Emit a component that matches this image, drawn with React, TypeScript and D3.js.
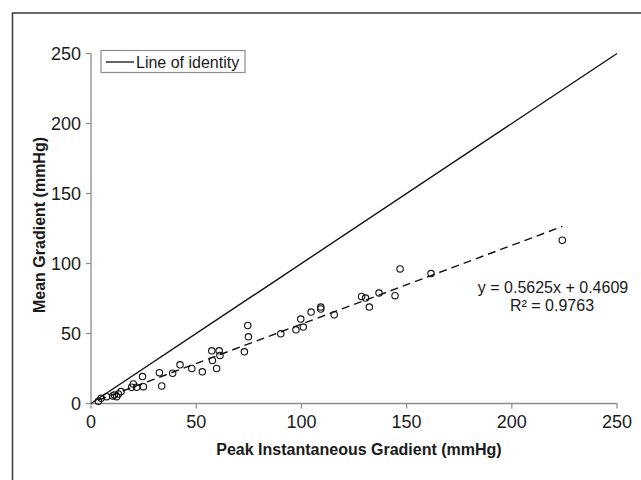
import React from "react";
import * as d3 from "d3";

const peakGradient = [3.5, 4.8, 7.4, 10.3, 11.1, 12.2, 13, 14.3, 19.3, 20.1, 21.7, 24.5, 24.9, 32.5, 33.6, 38.8, 42.3, 47.9, 52.9, 57.4, 57.7, 59.7, 60.9, 61.3, 72.9, 74.5, 74.8, 90.2, 97.4, 99.7, 100.9, 104.6, 109.2, 109.2, 115.6, 128.6, 130.5, 132.3, 136.9, 144.5, 146.9, 161.6, 224];
const meanGradient = [1.6, 3.7, 4.9, 5.4, 6.1, 4.9, 6.8, 8.5, 11.6, 14, 11.6, 19.2, 12, 22, 12.5, 21.6, 27.6, 25, 22.6, 37.6, 30.7, 25, 37.6, 34.3, 36.9, 55.7, 47.6, 49.8, 52.6, 60.3, 54.6, 65.3, 67.5, 68.9, 63.4, 76.5, 75.3, 68.9, 78.9, 77, 96.1, 92.8, 116.6];
const axisTicks = [0, 50, 100, 150, 200, 250];
const slope = 0.5625;
const intercept = 0.4609;
const equationText = "y = 0.5625x + 0.4609";
const r2Text = "R² = 0.9763";
const legendLabel = "Line of identity";
const xTitle = "Peak Instantaneous Gradient (mmHg)";
const yTitle = "Mean Gradient (mmHg)";

export default function App() {
  const x = d3.scaleLinear().domain([0, 250]).range([91, 617]);
  const y = d3.scaleLinear().domain([0, 250]).range([403.5, 53.5]);
  const points = peakGradient.map((v, i) => ({ x: v, y: meanGradient[i] }));
  const [xmin, xmax] = d3.extent(peakGradient) as [number, number];
  const line = d3.line<[number, number]>().x((d) => x(d[0])).y((d) => y(d[1]));
  const identity = line([[0, 0], [250, 250]]) || "";
  const trend = line([[xmin, slope * xmin + intercept], [xmax, slope * xmax + intercept]]) || "";
  const font = "'Liberation Sans', Arial, sans-serif";
  const axisColor = "#8c8c8c";
  return (
    <svg width={641} height={480} style={{ position: "absolute", left: 0, top: 0, background: "#fff" }} fontFamily={font}>
      <rect x={0} y={0} width={641} height={480} fill="#fff" />
      <rect x={12.5} y={13} width={700} height={600} fill="none" stroke="#3a3a3a" strokeWidth={1.5} />
      {/* axes */}
      <line x1={x(0)} x2={x(0)} y1={y(250)} y2={y(0)} stroke={axisColor} strokeWidth={1.3} />
      <line x1={x(0)} x2={x(250)} y1={y(0)} y2={y(0)} stroke={axisColor} strokeWidth={1.3} />
      {axisTicks.map((t) => (
        <g key={"y" + t}>
          <line x1={x(0) - 5} x2={x(0)} y1={y(t)} y2={y(t)} stroke={axisColor} strokeWidth={1.2} />
          <text x={81} y={y(t) + 6.3} textAnchor="end" fontSize={18} fill="#1a1a1a">{t}</text>
        </g>
      ))}
      {axisTicks.map((t) => (
        <g key={"x" + t}>
          <line x1={x(t)} x2={x(t)} y1={y(0)} y2={y(0) + 5} stroke={axisColor} strokeWidth={1.2} />
          <text x={x(t)} y={428} textAnchor="middle" fontSize={18} fill="#1a1a1a">{t}</text>
        </g>
      ))}
      {/* identity line */}
      <path d={identity} stroke="#111" strokeWidth={1.4} fill="none" />
      {/* trend line */}
      <path d={trend} stroke="#111" strokeWidth={1.4} strokeDasharray="8,5" fill="none" />
      {/* points */}
      {points.map((p, i) => (
        <circle key={i} cx={x(p.x)} cy={y(p.y)} r={3.2} fill="none" stroke="#111" strokeWidth={1.1} />
      ))}
      {/* legend */}
      <rect x={101} y={50.5} width={144} height={22} fill="#fff" stroke={axisColor} strokeWidth={1.2} />
      <line x1={106} x2={134} y1={62} y2={62} stroke="#111" strokeWidth={1.3} />
      <text x={136} y={67.5} fontSize={16} fill="#1a1a1a">{legendLabel}</text>
      {/* equation */}
      <text x={553} y={293} textAnchor="middle" fontSize={16} fill="#1a1a1a">{equationText}</text>
      <text x={552} y={311} textAnchor="middle" fontSize={16} fill="#1a1a1a">{r2Text}</text>
      {/* titles */}
      <text x={359} y={455} textAnchor="middle" fontSize={16} fontWeight="bold" fill="#1a1a1a">{xTitle}</text>
      <text transform={`translate(45,225) rotate(-90)`} textAnchor="middle" fontSize={16} fontWeight="bold" fill="#1a1a1a">{yTitle}</text>
    </svg>
  );
}
